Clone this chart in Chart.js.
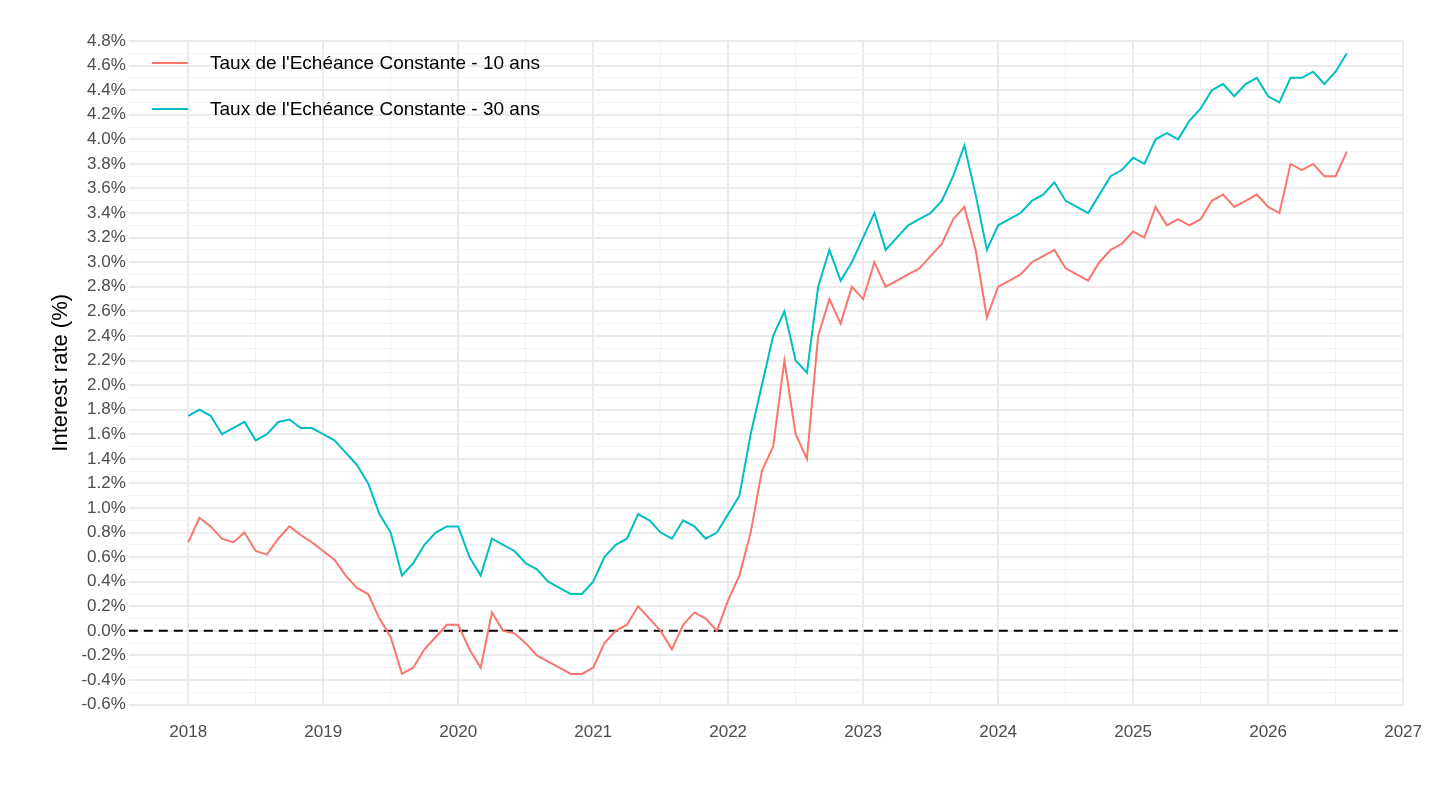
<!DOCTYPE html>
<html><head><meta charset="utf-8">
<script src="https://cdn.jsdelivr.net/npm/chart.js@4"></script>
<style>
body{margin:0;background:#fff;font-family:"Liberation Sans",Arial,sans-serif}
#wrap{position:relative;width:1440px;height:810px}
.lg{position:absolute;left:152px;font-size:19px;color:#000;display:flex;align-items:center}
.lg span{display:inline-block;width:36px;height:2px;margin-right:22px}
</style></head><body>
<div id="wrap"><canvas id="c" width="1440" height="810"></canvas>
<div class="lg" style="top:52px"><span style="background:#F8766D"></span>Taux de l'Echéance Constante - 10 ans</div>
<div class="lg" style="top:98px"><span style="background:#00BFC4"></span>Taux de l'Echéance Constante - 30 ans</div>
</div>
<script>
const startYear = 2018;
const rate10 = [
0.72,0.92,0.85,0.75,0.72,0.80,0.65,0.62,0.75,0.85,0.78,0.72,
0.65,0.58,0.45,0.35,0.30,0.10,-0.05,-0.35,-0.30,-0.15,-0.05,0.05,
0.05,-0.15,-0.30,0.15,0.00,-0.02,-0.10,-0.20,-0.25,-0.30,-0.35,-0.35,
-0.30,-0.10,0.00,0.05,0.20,0.10,0.00,-0.15,0.05,0.15,0.10,0.00,
0.25,0.45,0.80,1.30,1.50,2.20,1.60,1.40,2.40,2.70,2.50,2.80,
2.70,3.00,2.80,2.85,2.90,2.95,3.05,3.15,3.35,3.45,3.10,2.55,
2.80,2.85,2.90,3.00,3.05,3.10,2.95,2.90,2.85,3.00,3.10,3.15,
3.25,3.20,3.45,3.30,3.35,3.30,3.35,3.50,3.55,3.45,3.50,3.55,
3.45,3.40,3.80,3.75,3.80,3.70,3.70,3.90];
const rate30 = [
1.75,1.80,1.75,1.60,1.65,1.70,1.55,1.60,1.70,1.72,1.65,1.65,
1.60,1.55,1.45,1.35,1.20,0.95,0.80,0.45,0.55,0.70,0.80,0.85,
0.85,0.60,0.45,0.75,0.70,0.65,0.55,0.50,0.40,0.35,0.30,0.30,
0.40,0.60,0.70,0.75,0.95,0.90,0.80,0.75,0.90,0.85,0.75,0.80,
0.95,1.10,1.60,2.00,2.40,2.60,2.20,2.10,2.80,3.10,2.85,3.00,
3.20,3.40,3.10,3.20,3.30,3.35,3.40,3.50,3.70,3.95,3.55,3.10,
3.30,3.35,3.40,3.50,3.55,3.65,3.50,3.45,3.40,3.55,3.70,3.75,
3.85,3.80,4.00,4.05,4.00,4.15,4.25,4.40,4.45,4.35,4.45,4.50,
4.35,4.30,4.50,4.50,4.55,4.45,4.55,4.70];
const yearTicks = [2018,2019,2020,2021,2022,2023,2024,2025,2026,2027];
const toPts = a => a.map((v,i)=>({x:startYear+i/12,y:v}));
const xMin=2017.56, xMax=2027;
new Chart(document.getElementById('c'),{
 type:'line',
 data:{datasets:[
  {data:toPts(rate10),borderColor:'#F8766D',borderWidth:2,pointRadius:0,tension:0},
  {data:toPts(rate30),borderColor:'#00BFC4',borderWidth:2,pointRadius:0,tension:0},
  {data:[{x:xMin,y:0},{x:xMax,y:0}],borderColor:'#000',borderWidth:2,borderDash:[9,6],pointRadius:0}
 ]},
 options:{responsive:false,animation:false,
  layout:{padding:{left:44,right:13,top:41,bottom:49}},
  plugins:{legend:{display:false},tooltip:{enabled:false}},
  scales:{
   x:{type:'linear',min:xMin,max:xMax,
    afterBuildTicks:ax=>{const t=[];for(let y=2018;y<=2027;y+=0.5)t.push({value:y});ax.ticks=t;},
    ticks:{autoSkip:false,maxRotation:0,padding:18,color:'#4d4d4d',font:{size:17},callback:v=>Number.isInteger(v)?String(v):''},
    grid:{color:c=>Number.isInteger(c.tick?.value)?'#ebebeb':'#f3f3f3',lineWidth:c=>Number.isInteger(c.tick?.value)?2:1,drawTicks:false},
    border:{display:false}},
   y:{min:-0.6,max:4.8,
    afterBuildTicks:ax=>{const t=[];for(let i=-6;i<=48;i++)t.push({value:i/10});ax.ticks=t;},
    ticks:{autoSkip:false,color:'#4d4d4d',font:{size:17},callback:v=>{const k=Math.round(v*10);return k%2===0?(k/10).toFixed(1)+'%':'';}},
    grid:{color:c=>{const k=Math.round(c.tick.value*10);return k%2===0?'#ebebeb':'#f3f3f3'},lineWidth:c=>Math.round(c.tick.value*10)%2===0?2:1,drawTicks:false},
    border:{display:false},
    title:{display:true,text:'Interest rate (%)',color:'#000',font:{size:22}}}
  }}
});
</script></body></html>
